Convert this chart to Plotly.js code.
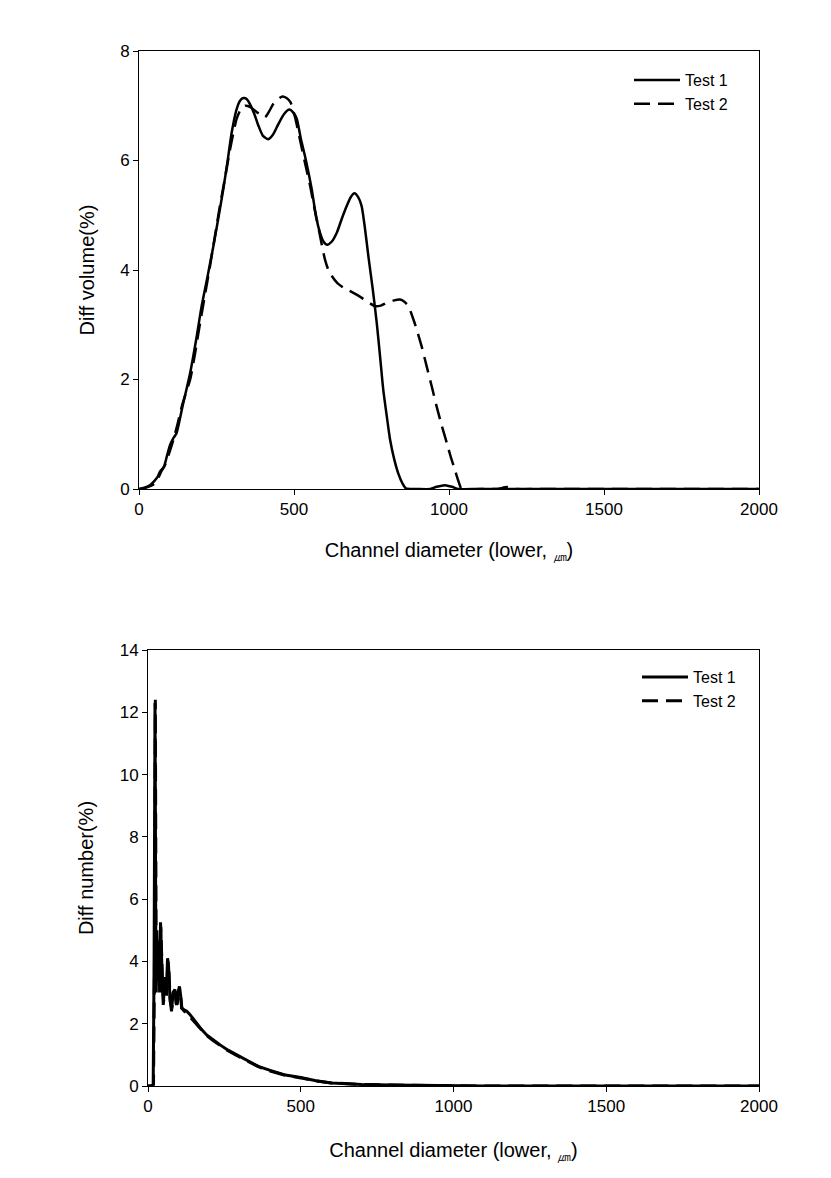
<!DOCTYPE html>
<html>
<head>
<meta charset="utf-8">
<script src="https://cdn.plot.ly/plotly-3.0.1.min.js"></script>
<style>html,body{margin:0;padding:0;background:#fff;}#chart{width:831px;height:1178px;}</style>
</head>
<body>
<div id="chart"></div>
<script>
// ---- Top chart: Diff volume (%) ----
const volTest1X = [0, 20, 35, 50, 60, 68, 80, 90, 100, 110, 121, 140, 165, 185, 202, 220, 240, 256, 272, 286, 299, 315, 327, 337, 348, 358, 372, 385, 400, 417, 433, 449, 468, 485, 497, 509, 522, 535, 557, 572, 584, 595, 607, 622, 638, 655, 670, 683, 695, 707, 718, 728, 740, 754, 767, 778, 788, 800, 810, 823, 836, 850, 861, 900, 940, 960, 987, 1010, 1030, 1100, 1500, 2000];
const volTest1Y = [0, 0.03, 0.07, 0.15, 0.22, 0.32, 0.4, 0.6, 0.8, 0.92, 1.02, 1.5, 2.12, 2.75, 3.34, 3.85, 4.44, 4.95, 5.48, 6.0, 6.51, 6.94, 7.1, 7.14, 7.12, 7.03, 6.85, 6.64, 6.45, 6.39, 6.48, 6.66, 6.85, 6.93, 6.88, 6.76, 6.4, 6.09, 5.48, 4.95, 4.68, 4.52, 4.46, 4.52, 4.68, 4.95, 5.17, 5.33, 5.40, 5.33, 5.17, 4.8, 4.25, 3.65, 3.03, 2.4, 1.81, 1.3, 0.9, 0.55, 0.29, 0.1, 0.01, 0, 0, 0.04, 0.07, 0.04, 0, 0, 0, 0];
const volTest2X = [0, 20, 40, 55, 70, 85, 100, 111, 125, 140, 165, 180, 197, 213, 229, 245, 261, 278, 294, 305, 315, 328, 342, 358, 374, 390, 406, 420, 433, 448, 463, 476, 489, 503, 519, 535, 552, 565, 578, 590, 600, 611, 622, 640, 659, 680, 702, 730, 761, 780, 799, 820, 842, 856, 869, 882, 896, 912, 928, 944, 960, 977, 993, 1006, 1019, 1030, 1041, 1100, 1155, 1187, 1219, 1300, 2000];
const volTest2Y = [0, 0.02, 0.06, 0.12, 0.3, 0.45, 0.7, 0.9, 1.2, 1.55, 2.0, 2.45, 3.03, 3.55, 4.07, 4.62, 5.17, 5.7, 6.21, 6.52, 6.76, 6.93, 7.0, 6.98, 6.91, 6.84, 6.79, 6.9, 7.03, 7.12, 7.17, 7.14, 7.06, 6.8, 6.39, 5.97, 5.54, 5.15, 4.80, 4.45, 4.19, 4.0, 3.89, 3.76, 3.68, 3.62, 3.55, 3.45, 3.34, 3.35, 3.40, 3.44, 3.46, 3.42, 3.34, 3.15, 2.91, 2.6, 2.24, 1.88, 1.51, 1.15, 0.84, 0.58, 0.35, 0.15, 0, 0, 0, 0.035, 0, 0, 0];

// ---- Bottom chart: Diff number (%) ----
const numTest1X = [0, 10, 17, 20, 23, 26, 29, 32, 35, 38, 41, 44, 47, 50, 55, 60, 64, 67, 72, 77, 82, 88, 93, 98, 103, 107, 110, 118, 127, 137, 148, 159, 175, 192, 214, 236, 262, 290, 325, 361, 400, 450, 500, 550, 600, 650, 700, 800, 900, 1000, 1100, 1500, 2000];
const numTest1Y = [0, 0, 0.05, 4.0, 12.3, 3.2, 5.0, 3.4, 4.6, 3.0, 5.26, 4.0, 3.3, 2.6, 3.5, 3.0, 4.1, 3.9, 2.8, 2.4, 3.0, 3.1, 2.6, 3.0, 3.2, 2.9, 2.5, 2.45, 2.4, 2.3, 2.15, 2.0, 1.82, 1.64, 1.47, 1.32, 1.15, 1.0, 0.82, 0.63, 0.5, 0.35, 0.27, 0.17, 0.1, 0.07, 0.05, 0.03, 0.02, 0.01, 0, 0, 0];
const numTest2X = [0, 10, 18, 21, 24, 27, 30, 33, 36, 39, 42, 45, 48, 51, 56, 61, 65, 68, 73, 78, 83, 89, 94, 99, 104, 108, 111, 119, 128, 137, 148, 159, 175, 192, 214, 236, 262, 290, 325, 361, 400, 450, 500, 550, 600, 650, 700, 800, 900, 1000, 1100, 1500, 2000];
const numTest2Y = [0, 0, 0.05, 3.5, 12.4, 3.0, 4.8, 3.3, 4.4, 3.1, 5.1, 3.9, 3.2, 2.7, 3.4, 2.9, 4.0, 3.8, 2.7, 2.5, 2.9, 3.0, 2.5, 2.9, 3.1, 2.8, 2.5, 2.4, 2.35, 2.22, 2.1, 1.97, 1.8, 1.62, 1.45, 1.3, 1.13, 0.98, 0.8, 0.62, 0.48, 0.34, 0.26, 0.16, 0.1, 0.07, 0.05, 0.03, 0.02, 0.01, 0, 0, 0];

const seriesNames = ["Test 1", "Test 2"];
const xTicks = [0, 500, 1000, 1500, 2000];
const volTicks = [0, 2, 4, 6, 8];
const numTicks = [0, 2, 4, 6, 8, 10, 12, 14];

const W = 831, H = 1178;
const FONT = "Liberation Sans, Arial, sans-serif";
const dashPat = "16px,8px";

const traces = [
  {x: volTest1X, y: volTest1Y, name: seriesNames[0], type: "scatter", mode: "lines", line: {color: "#000", width: 2.5, shape: "spline", smoothing: 0.6}, xaxis: "x", yaxis: "y", legend: "legend"},
  {x: volTest2X, y: volTest2Y, name: seriesNames[1], type: "scatter", mode: "lines", line: {color: "#000", width: 2.5, dash: dashPat, shape: "spline", smoothing: 0.6}, xaxis: "x", yaxis: "y", legend: "legend"},
  {x: numTest1X, y: numTest1Y, name: seriesNames[0], type: "scatter", mode: "lines", line: {color: "#000", width: 3}, xaxis: "x2", yaxis: "y2", legend: "legend2"},
  {x: numTest2X, y: numTest2Y, name: seriesNames[1], type: "scatter", mode: "lines", line: {color: "#000", width: 3, dash: dashPat}, xaxis: "x2", yaxis: "y2", legend: "legend2"}
];

const axisCommon = {
  showgrid: false, zeroline: false, showline: true, linecolor: "#000", linewidth: 1,
  mirror: true, ticks: "outside", ticklen: 5, tickwidth: 1, tickcolor: "#000",
  tickfont: {family: FONT, size: 17, color: "#000"}
};
const titleFont = {family: FONT, size: 20, color: "#000"};
const xTitle = "Channel diameter (lower, <sub>㎛</sub>)";

const layout = {
  width: W, height: H,
  margin: {l: 0, r: 0, t: 0, b: 0},
  paper_bgcolor: "#fff", plot_bgcolor: "#fff",
  font: {family: FONT, color: "#000"},
  showlegend: true,
  xaxis: Object.assign({}, axisCommon, {
    domain: [139 / W, 759 / W], anchor: "y", range: [0, 2000], tickvals: xTicks,
    title: {text: xTitle, font: titleFont, standoff: 24}
  }),
  yaxis: Object.assign({}, axisCommon, {
    domain: [1 - 489 / H, 1 - 51 / H], anchor: "x", range: [0, 8], tickvals: volTicks,
    title: {text: "Diff volume(%)", font: titleFont, standoff: 20}
  }),
  xaxis2: Object.assign({}, axisCommon, {
    domain: [148 / W, 759 / W], anchor: "y2", range: [0, 2000], tickvals: xTicks,
    title: {text: xTitle, font: titleFont, standoff: 27}
  }),
  yaxis2: Object.assign({}, axisCommon, {
    domain: [1 - 1086 / H, 1 - 650 / H], anchor: "x2", range: [0, 14], tickvals: numTicks,
    title: {text: "Diff number(%)", font: titleFont, standoff: 20}
  }),
  legend: {
    x: 629 / W, y: 1 - 63 / H, xanchor: "left", yanchor: "top",
    bgcolor: "rgba(0,0,0,0)", borderwidth: 0,
    font: {family: FONT, size: 16, color: "#000"}, tracegroupgap: 0, itemwidth: 46
  },
  legend2: {
    x: 637 / W, y: 1 - 660 / H, xanchor: "left", yanchor: "top",
    bgcolor: "rgba(0,0,0,0)", borderwidth: 0,
    font: {family: FONT, size: 16, color: "#000"}, tracegroupgap: 0, itemwidth: 46
  }
};

Plotly.newPlot("chart", traces, layout, {staticPlot: true, displayModeBar: false});
</script>
</body>
</html>
